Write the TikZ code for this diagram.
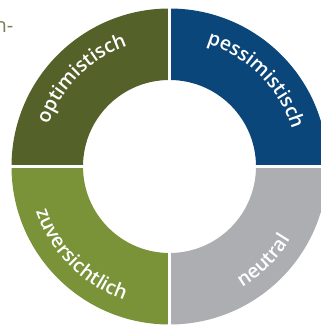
\documentclass[tikz,border=0pt]{standalone}
\usepackage{fontspec}
\usepackage{tikz}
\usetikzlibrary{calc, decorations.text}
\newfontfamily\ringfont{Open Sans Semibold}
\newfontfamily\capfont{Open Sans}
\definecolor{darkolive}{RGB}{84,98,42}
\definecolor{petrol}{RGB}{10,70,121}
\definecolor{leafgreen}{RGB}{122,147,57}
\definecolor{stone}{RGB}{173,174,178}
\definecolor{captiongrey}{RGB}{118,128,88}
\def\rin{86.5}
\def\rout{158}
\tikzstyle{gap}=[white, line width=3pt]
\tikzstyle{cut}=[inner sep=0pt, text=captiongrey, font=\capfont\fontsize{20}{24}\selectfont]
\tikzset{ringlabel/.style={decorate, decoration={text along path, text align=center,
      text color=white, text={|\ringfont\fontsize{19.5}{22}\selectfont|#1}}}}

\begin{document}
\begin{tikzpicture}[x=1pt, y=1pt]
  \useasboundingbox (0,0) rectangle (321,325);
  \coordinate (c) at (169.5,158.5);

  % quadrants
  \foreach \a/\col in {0/petrol, 90/darkolive, 180/leafgreen, 270/stone}{
    \fill[\col] ($(c)+(\a:\rin)$) -- ($(c)+(\a:\rout)$)
      arc[start angle=\a, end angle=\a+90, radius=\rout]
      -- ($(c)+(\a+90:\rin)$)
      arc[start angle=\a+90, end angle=\a, radius=\rin] -- cycle;
  }
  \draw[gap] ($(c)+(0,\rout+3)$) -- ($(c)-(0,\rout+3)$);
  \draw[gap] ($(c)+(\rout+3,0)$) -- ($(c)-(\rout+3,0)$);

  % labels, top ones clockwise, bottom ones counterclockwise
  \path[ringlabel=optimistisch] ($(c)+(180:128)$) arc[start angle=180, end angle=90, radius=128];
  \path[ringlabel=pessimistisch] ($(c)+(90:128)$) arc[start angle=90, end angle=0, radius=128];
  \path[ringlabel=zuversichtlich] ($(c)+(180:141)$) arc[start angle=180, end angle=270, radius=141];
  \path[ringlabel=neutral] ($(c)+(270:141)$) arc[start angle=270, end angle=360, radius=141];

  \node[cut, anchor=base east] (hyph) at (13.5,292) {n-};
\end{tikzpicture}
\end{document}
